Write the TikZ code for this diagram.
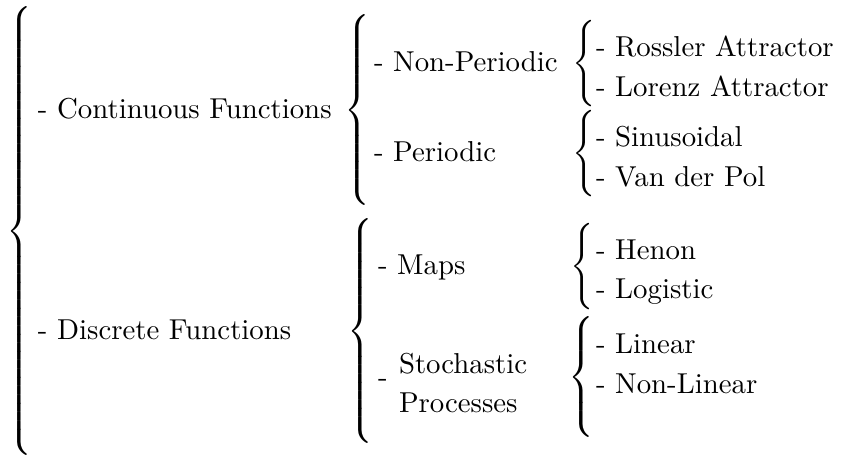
\documentclass[tikz,border=0pt]{standalone}
\delimitershortfall=0pt
\delimiterfactor=1000
\newcommand{\mybrace}[1]{$\left\{\vrule height \dimexpr #1/2+2.5pt\relax depth \dimexpr #1/2-2.5pt\relax width 0pt\right.$}
\begin{document}
\begin{tikzpicture}[x=0.3472pt,y=-0.3472pt,
  lbl/.style={anchor=base west, inner sep=0pt, outer sep=0pt},
  brc/.style={anchor=west, inner sep=0pt, outer sep=0pt}]
\useasboundingbox (0,0) rectangle (843,458);
% braces
\node[brc] (b0) at (7,231) {\mybrace{155pt}};
\node[brc] (b1) at (344,110) {\mybrace{65pt}};
\node[brc] (b2) at (347,331) {\mybrace{77pt}};
\node[brc] (b3) at (572,64) {\mybrace{29pt}};
\node[brc] (b4) at (572,154) {\mybrace{29pt}};
\node[brc] (b5) at (570,267) {\mybrace{29pt}};
\node[brc] (b6) at (568,377) {\mybrace{41pt}};
% level 1
\node[lbl] (cont) at (38,119) {- Continuous Functions};
\node[lbl] (disc) at (38,339) {- Discrete Functions};
% level 2
\node[lbl] (np) at (374,72) {- Non-Periodic};
\node[lbl] (per) at (374,162) {- Periodic};
\node[lbl] (maps) at (378,275) {- Maps};
\node[lbl] (sdash) at (378,386) {-};
\node[lbl] (stoch) at (399,373) {Stochastic};
\node[lbl] (proc) at (399,412) {Processes};
% level 3
\node[lbl] (ross) at (596,57) {- Rossler Attractor};
\node[lbl] (lor) at (596,97) {- Lorenz Attractor};
\node[lbl] (sin) at (596,147) {- Sinusoidal};
\node[lbl] (vdp) at (596,187) {- Van der Pol};
\node[lbl] (hen) at (596,259) {- Henon};
\node[lbl] (log) at (596,298) {- Logistic};
\node[lbl] (lin) at (596,353) {- Linear};
\node[lbl] (nlin) at (596,393) {- Non-Linear};
\end{tikzpicture}
\end{document}
